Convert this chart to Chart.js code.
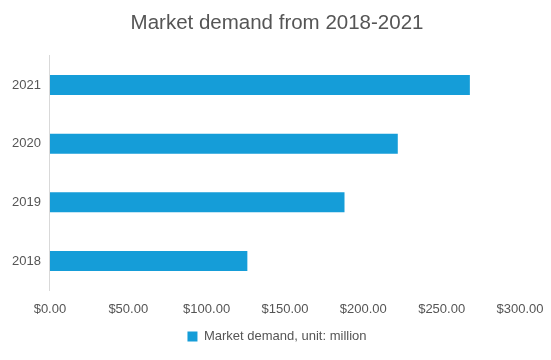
<!DOCTYPE html>
<html>
<head>
<meta charset="utf-8">
<script src="https://cdn.jsdelivr.net/npm/chart.js@4/dist/chart.umd.min.js"></script>
<style>
html,body{margin:0;padding:0;background:#fff;}
#wrap{width:551px;height:360px;position:relative;}
</style>
</head>
<body>
<div id="wrap"><canvas id="c" width="551" height="360"></canvas></div>
<script>
const categories = ['2021', '2020', '2019', '2018'];
const demandValues = [268, 222, 188, 126];
const seriesName = 'Market demand, unit: million';
const xTicks = [0, 50, 100, 150, 200, 250, 300];

Chart.defaults.font.family = '"Liberation Sans", Arial, sans-serif';
Chart.defaults.color = '#555';

new Chart(document.getElementById('c'), {
  type: 'bar',
  data: {
    labels: categories,
    datasets: [{
      label: seriesName,
      data: demandValues,
      backgroundColor: '#159dd8',
      borderWidth: 0,
      categoryPercentage: 0.68,
      barPercentage: 0.5
    }]
  },
  options: {
    indexAxis: 'y',
    responsive: false,
    animation: false,
    layout: { padding: { left: 3, right: 0, top: 0, bottom: 7 } },
    plugins: {
      title: {
        display: true,
        text: 'Market demand from 2018-2021',
        font: { size: 20.5, weight: 'normal' },
        color: '#555',
        padding: { top: 11, bottom: 20 }
      },
      legend: {
        position: 'bottom',
        labels: { boxWidth: 10, boxHeight: 10, font: { size: 13 }, color: '#555', padding: 2 }
      },
      tooltip: { enabled: false }
    },
    scales: {
      x: {
        min: 0, max: 300,
        afterBuildTicks: (axis) => { axis.ticks = xTicks.map(v => ({ value: v })); },
        afterFit: (axis) => { axis.paddingRight = 31; },
        grid: { display: false, drawTicks: false },
        border: { display: false },
        ticks: {
          padding: 11,
          font: { size: 13 },
          color: '#555',
          maxRotation: 0,
          callback: (v) => '$' + Number(v).toFixed(2)
        }
      },
      y: {
        grid: { display: false, drawTicks: false },
        border: { display: true, color: '#d9d9d9', width: 1 },
        ticks: { padding: 9, font: { size: 13 }, color: '#555' }
      }
    }
  }
});
</script>
</body>
</html>
